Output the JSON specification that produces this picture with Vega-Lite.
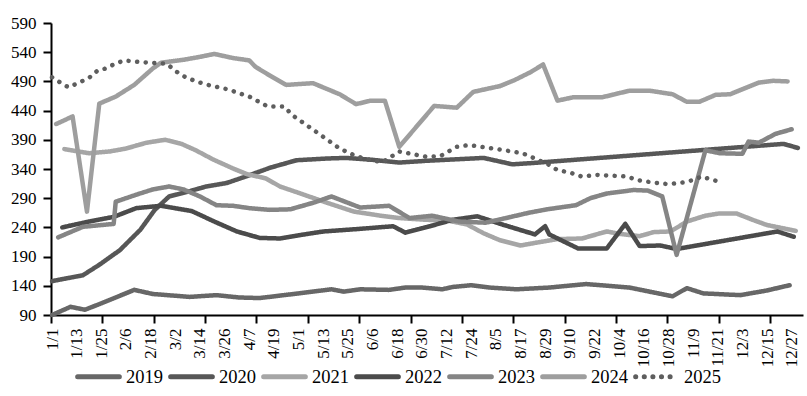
{
"$schema": "https://vega.github.io/schema/vega-lite/v6.json",
"width": 752, "height": 292,
"autosize": {"type": "none"},
"padding": {"left": 51, "top": 23, "right": 4, "bottom": 81},
"background": "white",
"config": {"view": {"stroke": null}, "font": "Liberation Serif"},
"data": {"values": [
{"year":"2019","day":0,"value":90},{"year":"2019","day":9,"value":104},{"year":"2019","day":16,"value":99},{"year":"2019","day":24,"value":110},{"year":"2019","day":40,"value":133},{"year":"2019","day":49,"value":126},{"year":"2019","day":67,"value":121},{"year":"2019","day":80,"value":124},{"year":"2019","day":91,"value":120},{"year":"2019","day":101,"value":119},{"year":"2019","day":120,"value":127},{"year":"2019","day":136,"value":134},{"year":"2019","day":142,"value":130},{"year":"2019","day":150,"value":134},{"year":"2019","day":164,"value":133},{"year":"2019","day":172,"value":137},{"year":"2019","day":180,"value":137},{"year":"2019","day":190,"value":134},{"year":"2019","day":195,"value":138},{"year":"2019","day":204,"value":141},{"year":"2019","day":213,"value":137},{"year":"2019","day":226,"value":134},{"year":"2019","day":242,"value":137},{"year":"2019","day":260,"value":143},{"year":"2019","day":281,"value":137},{"year":"2019","day":302,"value":122},{"year":"2019","day":309,"value":136},{"year":"2019","day":317,"value":127},{"year":"2019","day":335,"value":124},{"year":"2019","day":348,"value":132},{"year":"2019","day":359,"value":141},
{"year":"2020","day":0,"value":148},{"year":"2020","day":15,"value":158},{"year":"2020","day":23,"value":176},{"year":"2020","day":33,"value":201},{"year":"2020","day":43,"value":236},{"year":"2020","day":50,"value":270},{"year":"2020","day":57,"value":293},{"year":"2020","day":66,"value":301},{"year":"2020","day":75,"value":310},{"year":"2020","day":85,"value":316},{"year":"2020","day":95,"value":328},{"year":"2020","day":106,"value":342},{"year":"2020","day":119,"value":355},{"year":"2020","day":134,"value":358},{"year":"2020","day":143,"value":359},{"year":"2020","day":155,"value":356},{"year":"2020","day":169,"value":351},{"year":"2020","day":182,"value":354},{"year":"2020","day":199,"value":357},{"year":"2020","day":210,"value":359},{"year":"2020","day":224,"value":348},{"year":"2020","day":233,"value":350},{"year":"2020","day":356,"value":383},{"year":"2020","day":363,"value":376},
{"year":"2021","day":6,"value":374},{"year":"2021","day":18,"value":367},{"year":"2021","day":28,"value":370},{"year":"2021","day":36,"value":375},{"year":"2021","day":46,"value":385},{"year":"2021","day":55,"value":390},{"year":"2021","day":63,"value":383},{"year":"2021","day":70,"value":372},{"year":"2021","day":78,"value":357},{"year":"2021","day":88,"value":341},{"year":"2021","day":95,"value":331},{"year":"2021","day":104,"value":324},{"year":"2021","day":111,"value":310},{"year":"2021","day":121,"value":298},{"year":"2021","day":134,"value":282},{"year":"2021","day":147,"value":267},{"year":"2021","day":160,"value":260},{"year":"2021","day":169,"value":256},{"year":"2021","day":182,"value":253},{"year":"2021","day":192,"value":252},{"year":"2021","day":202,"value":245},{"year":"2021","day":210,"value":230},{"year":"2021","day":218,"value":218},{"year":"2021","day":228,"value":209},{"year":"2021","day":236,"value":214},{"year":"2021","day":246,"value":220},{"year":"2021","day":258,"value":221},{"year":"2021","day":270,"value":233},{"year":"2021","day":276,"value":229},{"year":"2021","day":286,"value":225},{"year":"2021","day":293,"value":232},{"year":"2021","day":301,"value":233},{"year":"2021","day":309,"value":250},{"year":"2021","day":318,"value":260},{"year":"2021","day":325,"value":264},{"year":"2021","day":333,"value":264},{"year":"2021","day":341,"value":253},{"year":"2021","day":348,"value":244},{"year":"2021","day":362,"value":234},
{"year":"2022","day":5,"value":240},{"year":"2022","day":18,"value":250},{"year":"2022","day":30,"value":258},{"year":"2022","day":41,"value":273},{"year":"2022","day":53,"value":277},{"year":"2022","day":68,"value":268},{"year":"2022","day":79,"value":250},{"year":"2022","day":90,"value":233},{"year":"2022","day":101,"value":222},{"year":"2022","day":111,"value":221},{"year":"2022","day":121,"value":227},{"year":"2022","day":132,"value":233},{"year":"2022","day":148,"value":237},{"year":"2022","day":166,"value":242},{"year":"2022","day":172,"value":231},{"year":"2022","day":184,"value":242},{"year":"2022","day":195,"value":253},{"year":"2022","day":207,"value":259},{"year":"2022","day":220,"value":244},{"year":"2022","day":235,"value":228},{"year":"2022","day":240,"value":242},{"year":"2022","day":242,"value":228},{"year":"2022","day":256,"value":204},{"year":"2022","day":270,"value":204},{"year":"2022","day":279,"value":246},{"year":"2022","day":286,"value":208},{"year":"2022","day":296,"value":209},{"year":"2022","day":304,"value":203},{"year":"2022","day":353,"value":233},{"year":"2022","day":361,"value":224},
{"year":"2023","day":3,"value":223},{"year":"2023","day":15,"value":241},{"year":"2023","day":30,"value":246},{"year":"2023","day":31,"value":284},{"year":"2023","day":41,"value":296},{"year":"2023","day":49,"value":305},{"year":"2023","day":57,"value":310},{"year":"2023","day":64,"value":305},{"year":"2023","day":72,"value":293},{"year":"2023","day":80,"value":278},{"year":"2023","day":88,"value":277},{"year":"2023","day":96,"value":273},{"year":"2023","day":106,"value":270},{"year":"2023","day":116,"value":271},{"year":"2023","day":127,"value":282},{"year":"2023","day":136,"value":293},{"year":"2023","day":150,"value":274},{"year":"2023","day":164,"value":277},{"year":"2023","day":174,"value":256},{"year":"2023","day":185,"value":260},{"year":"2023","day":198,"value":250},{"year":"2023","day":211,"value":248},{"year":"2023","day":221,"value":256},{"year":"2023","day":232,"value":265},{"year":"2023","day":241,"value":271},{"year":"2023","day":255,"value":278},{"year":"2023","day":262,"value":290},{"year":"2023","day":270,"value":298},{"year":"2023","day":283,"value":304},{"year":"2023","day":290,"value":303},{"year":"2023","day":297,"value":293},{"year":"2023","day":304,"value":193},{"year":"2023","day":318,"value":372},{"year":"2023","day":325,"value":367},{"year":"2023","day":336,"value":366},{"year":"2023","day":339,"value":387},{"year":"2023","day":344,"value":385},{"year":"2023","day":352,"value":400},{"year":"2023","day":360,"value":408},
{"year":"2024","day":2,"value":417},{"year":"2024","day":10,"value":430},{"year":"2024","day":17,"value":267},{"year":"2024","day":23,"value":452},{"year":"2024","day":31,"value":464},{"year":"2024","day":40,"value":484},{"year":"2024","day":49,"value":512},{"year":"2024","day":53,"value":522},{"year":"2024","day":64,"value":527},{"year":"2024","day":72,"value":532},{"year":"2024","day":79,"value":537},{"year":"2024","day":88,"value":530},{"year":"2024","day":96,"value":526},{"year":"2024","day":99,"value":515},{"year":"2024","day":106,"value":500},{"year":"2024","day":114,"value":484},{"year":"2024","day":127,"value":487},{"year":"2024","day":140,"value":468},{"year":"2024","day":148,"value":451},{"year":"2024","day":155,"value":457},{"year":"2024","day":162,"value":457},{"year":"2024","day":169,"value":378},{"year":"2024","day":186,"value":448},{"year":"2024","day":197,"value":445},{"year":"2024","day":205,"value":472},{"year":"2024","day":218,"value":482},{"year":"2024","day":225,"value":492},{"year":"2024","day":233,"value":506},{"year":"2024","day":239,"value":519},{"year":"2024","day":246,"value":457},{"year":"2024","day":254,"value":463},{"year":"2024","day":268,"value":463},{"year":"2024","day":281,"value":474},{"year":"2024","day":291,"value":474},{"year":"2024","day":302,"value":468},{"year":"2024","day":309,"value":455},{"year":"2024","day":315,"value":455},{"year":"2024","day":323,"value":467},{"year":"2024","day":330,"value":468},{"year":"2024","day":344,"value":488},{"year":"2024","day":351,"value":491},{"year":"2024","day":358,"value":490},
{"year":"2025","day":0,"value":497},{"year":"2025","day":4,"value":488},{"year":"2025","day":8,"value":480},{"year":"2025","day":12,"value":486},{"year":"2025","day":18,"value":496},{"year":"2025","day":22,"value":508},{"year":"2025","day":26,"value":512},{"year":"2025","day":30,"value":519},{"year":"2025","day":35,"value":526},{"year":"2025","day":43,"value":523},{"year":"2025","day":52,"value":521},{"year":"2025","day":56,"value":520},{"year":"2025","day":60,"value":508},{"year":"2025","day":64,"value":499},{"year":"2025","day":70,"value":490},{"year":"2025","day":77,"value":483},{"year":"2025","day":86,"value":476},{"year":"2025","day":90,"value":471},{"year":"2025","day":96,"value":464},{"year":"2025","day":105,"value":447},{"year":"2025","day":113,"value":447},{"year":"2025","day":117,"value":432},{"year":"2025","day":126,"value":410},{"year":"2025","day":134,"value":390},{"year":"2025","day":140,"value":375},{"year":"2025","day":148,"value":362},{"year":"2025","day":155,"value":355},{"year":"2025","day":161,"value":352},{"year":"2025","day":169,"value":370},{"year":"2025","day":182,"value":361},{"year":"2025","day":189,"value":362},{"year":"2025","day":197,"value":378},{"year":"2025","day":203,"value":381},{"year":"2025","day":215,"value":375},{"year":"2025","day":222,"value":371},{"year":"2025","day":229,"value":367},{"year":"2025","day":235,"value":358},{"year":"2025","day":242,"value":347},{"year":"2025","day":246,"value":338},{"year":"2025","day":252,"value":334},{"year":"2025","day":258,"value":327},{"year":"2025","day":265,"value":330},{"year":"2025","day":280,"value":327},{"year":"2025","day":285,"value":321},{"year":"2025","day":292,"value":317},{"year":"2025","day":300,"value":314},{"year":"2025","day":307,"value":317},{"year":"2025","day":312,"value":321},{"year":"2025","day":316,"value":327},{"year":"2025","day":325,"value":318}
]},
"mark": {"type": "line", "strokeWidth": 4.5, "strokeCap": "round", "strokeJoin": "round"},
"encoding": {
"x": {"field": "day", "type": "quantitative",
  "scale": {"domain": [-0.5, 365.5], "nice": false, "zero": false},
  "axis": {"title": null, "grid": false,
    "values": [-0.5,0,12,24,24.5,36,48,49.5,60,72,74.5,84,96,99.5,108,120,124.5,132,144,149.5,156,168,174.5,180,192,199.5,204,216,224.5,228,240,249.5,252,264,274.5,276,288,299.5,300,312,324,324.5,336,348,349.5,360],
    "labelExpr": "datum.value % 1 != 0 ? '' : utcFormat(utc(2025,0,1) + datum.value * 86400000, '%-m/%-d')",
    "labelAngle": -90, "labelFont": "Liberation Serif", "labelFontSize": 17, "labelColor": "black",
    "labelPadding": 5, "labelOverlap": false, "labelFlush": false,
    "tickSize": 8, "tickWidth": 2, "tickColor": "black",
    "tickOpacity": {"condition": {"test": "datum.value % 1 != 0", "value": 1}, "value": 0},
    "domainColor": "black", "domainWidth": 2}},
"y": {"field": "value", "type": "quantitative",
  "scale": {"domain": [90, 590], "nice": false, "zero": false},
  "axis": {"title": null, "grid": false, "values": [90,140,190,240,290,340,390,440,490,540,590],
    "labelFont": "Liberation Serif", "labelFontSize": 17, "labelColor": "black", "labelPadding": 7,
    "tickSize": 8, "tickWidth": 2, "tickColor": "black", "domainColor": "black", "domainWidth": 2}},
"color": {"field": "year", "type": "nominal",
  "scale": {"domain": ["2019","2020","2021","2022","2023","2024","2025"],
            "range": ["#676767","#575757","#a6a6a6","#4b4b4b","#858585","#9e9e9e","#5e5e5e"]},
  "legend": {"orient": "none", "legendX": 24, "legendY": 330, "direction": "horizontal", "title": null,
    "symbolType": "stroke", "symbolSize": 1740, "symbolStrokeWidth": 5,
    "labelFont": "Liberation Serif", "labelFontSize": 18.5, "labelColor": "black",
    "labelOffset": 4, "columnPadding": -3, "padding": 0,
    "encode": {"symbols": {"update": {"strokeCap": {"value": "round"}}}}}},
"strokeDash": {"field": "year", "type": "nominal",
  "scale": {"domain": ["2019","2020","2021","2022","2023","2024","2025"],
            "range": [[1,0],[1,0],[1,0],[1,0],[1,0],[1,0],[0.1,8.5]]},
  "legend": {"orient": "none", "legendX": 24, "legendY": 330, "direction": "horizontal", "title": null,
    "symbolType": "stroke", "symbolSize": 1740, "symbolStrokeWidth": 5,
    "labelFont": "Liberation Serif", "labelFontSize": 18.5, "labelColor": "black",
    "labelOffset": 4, "columnPadding": -3, "padding": 0,
    "encode": {"symbols": {"update": {"strokeCap": {"value": "round"}}}}}}
}
}
